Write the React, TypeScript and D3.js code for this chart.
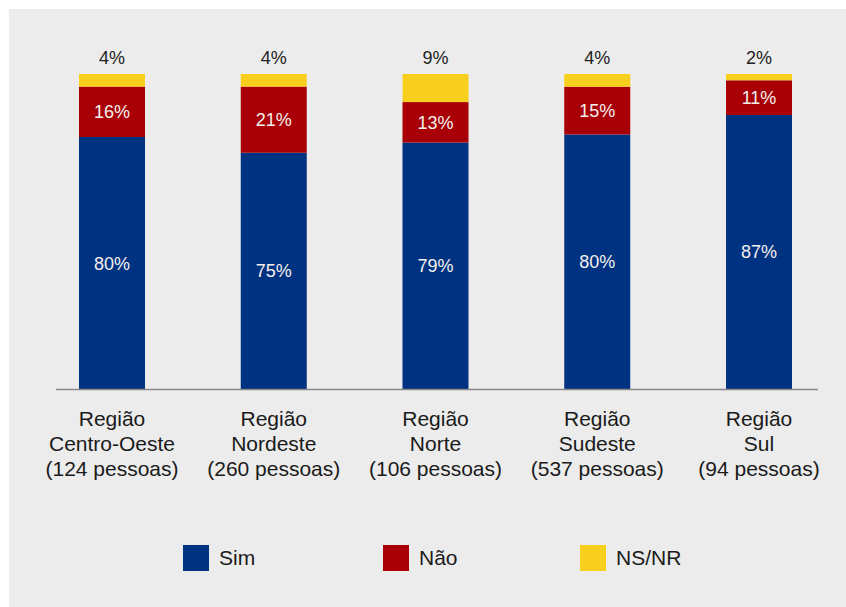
import React from "react";
import * as d3 from "d3";

const categories = ["Centro-Oeste", "Nordeste", "Norte", "Sudeste", "Sul"];
const counts = [124, 260, 106, 537, 94];
const sim = [80, 75, 79, 80, 87];
const nao = [16, 21, 13, 15, 11];
const nsnr = [4, 4, 9, 4, 2];
const seriesKeys = ["Sim", "Não", "NS/NR"];
const seriesColors = ["#003282", "#a80006", "#f7cf1c"];

const W = 846;
const H = 607;
const FONT = "'Liberation Sans', Arial, Helvetica, sans-serif";

export default function App() {
  const rows = categories.map((c, i) => ({
    cat: c,
    Sim: sim[i],
    "Não": nao[i],
    "NS/NR": nsnr[i],
  }));
  const stacked = d3
    .stack<any>()
    .keys(seriesKeys)
    .offset(d3.stackOffsetExpand)(rows);

  const x = d3.scalePoint<string>().domain(categories).range([112, 759]);
  const y = d3.scaleLinear().domain([0, 1]).range([389, 74]);
  const barW = 66;
  const color = d3.scaleOrdinal<string, string>().domain(seriesKeys).range(seriesColors);

  const legendX = [183, 383, 580];

  return (
    <svg
      width={W}
      height={H}
      style={{ position: "absolute", left: 0, top: 0, display: "block" }}
      fontFamily={FONT}
    >
      <rect x={0} y={0} width={W} height={H} fill="#ffffff" />
      <rect x={9} y={9} width={W - 9} height={H - 9} fill="#ececec" />
      {stacked.map((s) => (
        <g key={s.key}>
          {s.map((d, i) => (
            <rect
              key={i}
              x={(x(categories[i]) as number) - barW / 2}
              y={y(d[1])}
              width={barW}
              height={y(d[0]) - y(d[1])}
              fill={color(s.key)}
            />
          ))}
        </g>
      ))}
      <line x1={56} x2={818} y1={389.5} y2={389.5} stroke="#888" strokeWidth={1.5} />
      {/* inner labels */}
      {stacked.slice(0, 2).map((s) => (
        <g key={"l" + s.key}>
          {s.map((d, i) => (
            <text
              key={i}
              x={x(categories[i]) as number}
              y={(y(d[0]) + y(d[1])) / 2 + 6.5}
              textAnchor="middle"
              fontSize={18}
              fill="#f4f0ec"
            >
              {(s.key === "Sim" ? sim[i] : nao[i]) + "%"}
            </text>
          ))}
        </g>
      ))}
      {/* top labels */}
      {categories.map((c, i) => (
        <text
          key={"t" + c}
          x={x(c) as number}
          y={63.5}
          textAnchor="middle"
          fontSize={18}
          fill="#222"
        >
          {nsnr[i] + "%"}
        </text>
      ))}
      {/* category labels */}
      {categories.map((c, i) => (
        <text
          key={"c" + c}
          x={x(c) as number}
          textAnchor="middle"
          fontSize={21}
          fill="#1a1a1a"
        >
          <tspan x={x(c) as number} y={425.5}>Região</tspan>
          <tspan x={x(c) as number} y={450.5}>{c}</tspan>
          <tspan x={x(c) as number} y={475.5}>{`(${counts[i]} pessoas)`}</tspan>
        </text>
      ))}
      {/* legend */}
      {seriesKeys.map((k, i) => (
        <g key={"lg" + k}>
          <rect x={legendX[i]} y={545} width={26} height={26} fill={color(k)} />
          <text x={legendX[i] + 36} y={565} fontSize={21} fill="#1a1a1a">
            {k}
          </text>
        </g>
      ))}
    </svg>
  );
}
